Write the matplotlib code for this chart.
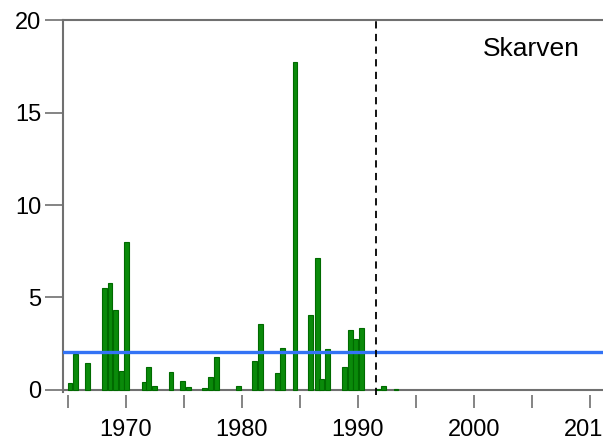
import matplotlib
matplotlib.use("Agg")
import matplotlib.pyplot as plt

# Data (decimal year position, value)
years = [1965.2, 1965.7, 1966.7, 1968.15, 1968.65, 1969.1, 1969.6, 1970.1,
         1971.6, 1972.0, 1972.5, 1973.9, 1974.9, 1975.4, 1976.8, 1977.3,
         1977.8, 1979.7, 1981.1, 1981.6, 1983.1, 1983.5, 1984.6, 1985.95,
         1986.5, 1986.9, 1987.4, 1988.9, 1989.35, 1989.8, 1990.35, 1991.75,
         1992.25, 1993.3]
values = [0.4, 1.95, 1.48, 5.5, 5.8, 4.3, 1.0, 8.0,
          0.45, 1.26, 0.22, 0.99, 0.5, 0.15, 0.1, 0.72,
          1.8, 0.23, 1.57, 3.57, 0.94, 2.29, 17.75, 4.06,
          7.15, 0.6, 2.2, 1.26, 3.24, 2.74, 3.37, 0.08,
          0.2, 0.08]
mean_level = 2.07
break_year = 1991.55
xticks_major = [1965, 1970, 1975, 1980, 1985, 1990, 1995, 2000, 2005, 2010]
xtick_labels = ["", "1970", "", "1980", "", "1990", "", "2000", "", "2010"]
yticks = [0, 5, 10, 15, 20]
site = "Skarven"

plt.rcParams['font.family'] = ['Liberation Sans', 'DejaVu Sans']

fig = plt.figure(figsize=(6.03, 4.47), dpi=100)
ax = fig.add_axes([0.105, 0.1172, 0.895, 0.838])

gray = '#707070'
ax.bar(years, values, width=0.42, color='#0a8a0a', edgecolor='#006a00',
       linewidth=0.8, zorder=3)
ax.axhline(0, color=gray, lw=1.5, zorder=2)
ax.axhline(mean_level, color='#3373f5', lw=2.4, zorder=4)
ax.axvline(break_year, color='black', lw=1.3, ls=(0, (4, 3)), zorder=5)

ax.set_xlim(1964.62, 2011.15)
ax.set_ylim(-0.25, 20)
ax.set_xticks(xticks_major)
ax.set_xticklabels(xtick_labels)
ax.set_yticks(yticks)

for s in ['right', 'bottom']:
    ax.spines[s].set_visible(False)
for s in ['left', 'top']:
    ax.spines[s].set_color(gray)
    ax.spines[s].set_linewidth(1.5)
ax.spines['left'].set_bounds(-0.1, 20)

ax.tick_params(axis='x', length=9.5, width=1.2, color=gray, pad=8,
               labelsize=17, direction='out')
ax.tick_params(axis='y', length=13, width=1.2, color=gray, pad=3,
               labelsize=17, direction='out')

ax.text(2005.0, 18.45, site, ha='center', va='center', fontsize=19)

fig.savefig("out.png", dpi=100)
